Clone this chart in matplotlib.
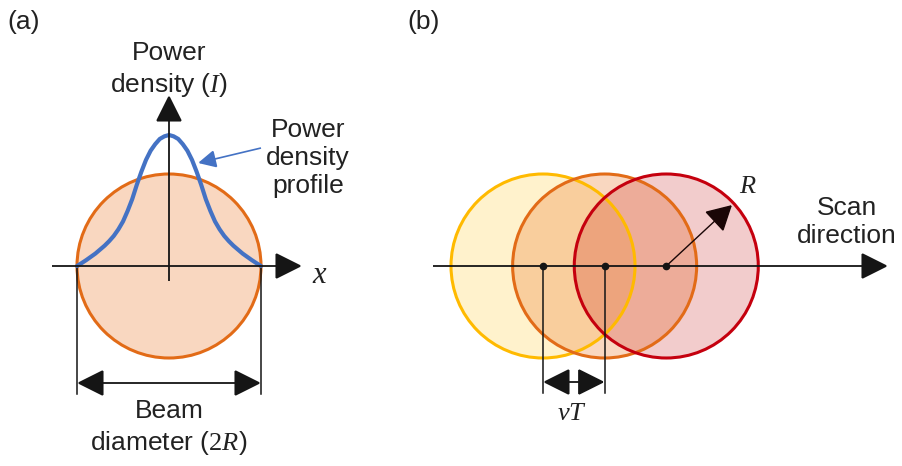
import matplotlib
matplotlib.use("Agg")
import matplotlib.pyplot as plt
from matplotlib.patches import Circle, FancyArrowPatch, ArrowStyle

plt.rcParams["font.family"] = ["Liberation Sans", "DejaVu Sans"]
plt.rcParams["mathtext.fontset"] = "custom"
plt.rcParams["mathtext.it"] = "Liberation Serif:italic"
plt.rcParams["mathtext.rm"] = "Liberation Serif"

# ---- diagram content -------------------------------------------------------
panel_labels = ["(a)", "(b)"]
# normalised power density profile, |x|/R -> I/I_peak (symmetric about centre)
profile_r = [0.00, 0.05, 0.10, 0.15, 0.20, 0.25, 0.30, 0.35, 0.40, 0.45, 0.50,
             0.55, 0.60, 0.65, 0.70, 0.75, 0.80, 0.85, 0.90, 0.95, 1.00]
profile_I = [1.00, 0.99, 0.97, 0.93, 0.88, 0.81, 0.72, 0.62, 0.51, 0.42, 0.34,
             0.28, 0.23, 0.19, 0.155, 0.125, 0.095, 0.07, 0.045, 0.022, 0.00]
scan_steps = [0, 1, 2]                 # successive pulses along the scan
step_over_R = 0.67                     # vT / R
text_a = {"axis_y": "Power\ndensity ($I$)", "axis_x": "$x$",
          "profile": "Power\ndensity\nprofile", "diam": "Beam\ndiameter ($\\mathrm{2}R$)"}
text_b = {"radius": "$R$", "step": "$vT$", "scan": "Scan\ndirection"}

# ---- layout (pixel units, y downward) --------------------------------------
W, H = 903, 466
R = 92.0
peak_h = 131.0
axis_y = 266.0
ca_x = 169.0
cb_x0 = 543.0

edge_or = "#E26B17"
edge_ye = "#FFBA00"
edge_rd = "#C5000E"
ink = "#151515"
blue = "#4472C4"

fig = plt.figure(figsize=(W / 100, H / 100), dpi=100)
ax = fig.add_axes([0, 0, 1, 1])
ax.set_xlim(0, W)
ax.set_ylim(H, 0)
ax.axis("off")


def arrow(p0, p1, style="-|>", lw=1.3, ms=16, color=ink, hl=1.0, hw=0.5, z=5):
    st = ArrowStyle(style, head_length=hl, head_width=hw)
    a = FancyArrowPatch(p0, p1, arrowstyle=st, mutation_scale=ms, lw=lw,
                        color=color, shrinkA=0, shrinkB=0, zorder=z,
                        joinstyle="miter", capstyle="butt")
    ax.add_patch(a)


FS = 19

# ---- panel (a) -------------------------------------------------------------
ax.add_patch(Circle((ca_x, axis_y), R, facecolor="#ED7D31", alpha=0.3, lw=0, zorder=1))
ax.add_patch(Circle((ca_x, axis_y), R, facecolor="none", edgecolor=edge_or, lw=2.2, zorder=2))

xs = [ca_x - R * r for r in profile_r[::-1]] + [ca_x + R * r for r in profile_r[1:]]
ys = [axis_y - peak_h * v for v in profile_I[::-1]] + [axis_y - peak_h * v for v in profile_I[1:]]
ax.plot(xs, ys, color=blue, lw=3.0, solid_capstyle="round", zorder=4)

arrow((52, axis_y), (302, axis_y), ms=17)
arrow((ca_x, 281), (ca_x, 95), ms=17)
for xe in (ca_x - R, ca_x + R):
    ax.plot([xe, xe], [axis_y, 394], color=ink, lw=1.1, zorder=3)
arrow((ca_x - R, 383), (ca_x + R, 383), style="<|-|>", ms=17)
arrow((261, 148), (198, 163), lw=1.2, color=blue, ms=11, hl=1.0, hw=0.5)

ax.text(24, 22, panel_labels[0], fontsize=FS, ha="center", va="center", color="#222")
ax.text(ca_x, 70, text_a["axis_y"], fontsize=FS, ha="center", va="center",
        linespacing=1.25, color="#222")
ax.text(320, 275, text_a["axis_x"], fontsize=22, ha="center", va="center", color="#222")
ax.text(308, 158, text_a["profile"], fontsize=FS, ha="center", va="center",
        linespacing=1.2, color="#222")
ax.text(ca_x, 428, text_a["diam"], fontsize=FS, ha="center", va="center",
        linespacing=1.25, color="#222")

# ---- panel (b) -------------------------------------------------------------
pulse_fill = ["#FFC000", "#ED7D31", "#C00000"]
pulse_alpha = [0.2, 0.3, 0.2]
pulse_edge = [edge_ye, edge_or, edge_rd]
centres = [cb_x0 + s * step_over_R * R for s in scan_steps]
for i, cx in enumerate(centres):
    ax.add_patch(Circle((cx, axis_y), R, facecolor=pulse_fill[i],
                        alpha=pulse_alpha[i], lw=0, zorder=1 + 0.1 * i))
for i, cx in enumerate(centres):
    ax.add_patch(Circle((cx, axis_y), R, facecolor="none", edgecolor=pulse_edge[i],
                        lw=2.2, zorder=2 + 0.1 * i))

arrow((433, axis_y), (888, axis_y), ms=17)
for cx in centres:
    ax.plot(cx, axis_y, "o", ms=4.5, color=ink, zorder=6)
for cx in centres[:2]:
    ax.plot([cx, cx], [axis_y, 393], color=ink, lw=1.1, zorder=3)
arrow((centres[0], 382), (centres[1], 382), style="<|-|>", ms=17)
arrow((centres[2], axis_y), (732, 205), lw=1.0, ms=16, hl=1.0, hw=0.55, color="#1a0606")

ax.text(424, 22, panel_labels[1], fontsize=FS, ha="center", va="center", color="#222")
ax.text(748, 186, text_b["radius"], fontsize=FS, ha="center", va="center", color="#222")
ax.text(572, 413, text_b["step"], fontsize=FS, ha="center", va="center", color="#222")
ax.text(847, 222, text_b["scan"], fontsize=FS, ha="center", va="center",
        linespacing=1.2, color="#222")

fig.savefig("out.png", dpi=100)
